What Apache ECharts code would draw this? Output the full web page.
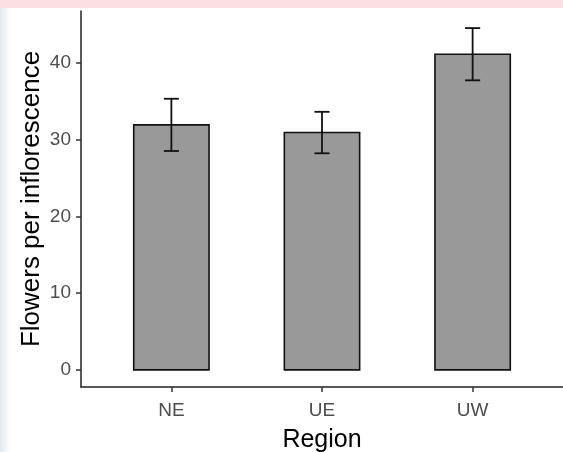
<!DOCTYPE html>
<html>
<head>
<meta charset="utf-8">
<script src="https://cdn.jsdelivr.net/npm/echarts@6/dist/echarts.min.js"></script>
<style>
  html, body { margin: 0; padding: 0; background: #fff; }
  #chart { width: 563px; height: 452px; }
</style>
</head>
<body>
<div id="chart"></div>
<script>
// Mean flowers per inflorescence by region, with error bars
const regions = ['NE', 'UE', 'UW'];
const means = [31.9, 30.9, 41.1];
const errors = [3.4, 2.7, 3.4];
const yTicks = [0, 10, 20, 30, 40];

const FONT = 'Liberation Sans, Arial, sans-serif';
const BAR_WIDTH = 0.5;   // in category units
const CAP_WIDTH = 0.1;

const data = regions.map((r, i) => [i + 1, means[i], errors[i]]);

// ggplot-style expansion of the y range
const yMaxData = Math.max(...means.map((m, i) => m + errors[i]));
const yPad = yMaxData * 0.05;

const chart = echarts.init(document.getElementById('chart'), null, { renderer: 'canvas' });

chart.setOption({
  backgroundColor: '#ffffff',
  animation: false,
  textStyle: { fontFamily: FONT },
  graphic: [
    { type: 'rect', left: 0, top: 0, shape: { width: 563, height: 8 }, style: { fill: '#f9dfe2' }, z: 100 },
    {
      type: 'rect', left: 0, top: 8, shape: { width: 10, height: 444 },
      style: {
        fill: new echarts.graphic.LinearGradient(0, 0, 1, 0, [
          { offset: 0, color: '#e4e8f2' }, { offset: 1, color: '#ffffff' }
        ])
      },
      z: -1
    }
  ],
  grid: { left: 81, right: 0, top: 11, bottom: 65, containLabel: false, outerBoundsMode: 'none' },
  xAxis: {
    type: 'value',
    min: 0.4,
    max: 3.6,
    splitLine: { show: false },
    axisLine: { show: true, onZero: false, lineStyle: { color: '#222', width: 1.5 } },
    axisTick: { show: true, length: 5, customValues: [1, 2, 3], lineStyle: { color: '#333', width: 1.5 } },
    axisLabel: {
      customValues: [1, 2, 3],
      formatter: v => regions[Math.round(v) - 1] || '',
      color: '#4d4d4d', fontSize: 19, fontFamily: FONT, margin: 14
    },
    name: 'Region',
    nameLocation: 'middle',
    nameGap: 41,
    nameMoveOverlap: false,
    nameTextStyle: { color: '#000', fontSize: 25, fontFamily: FONT }
  },
  yAxis: {
    type: 'value',
    min: -yPad,
    max: yMaxData + yPad,
    splitLine: { show: false },
    axisLine: { show: true, onZero: false, lineStyle: { color: '#222', width: 1.5 } },
    axisTick: { show: true, length: 5, customValues: yTicks, lineStyle: { color: '#333', width: 1.5 } },
    axisLabel: {
      customValues: yTicks,
      color: '#4d4d4d', fontSize: 19, fontFamily: FONT, margin: 10
    },
    name: 'Flowers per inflorescence',
    nameLocation: 'middle',
    nameGap: 36,
    nameMoveOverlap: false,
    nameTextStyle: { color: '#000', fontSize: 26, fontFamily: FONT }
  },
  series: [{
    type: 'custom',
    data: data,
    encode: { x: 0, y: 1 },
    renderItem: function (params, api) {
      const x = api.value(0);
      const m = api.value(1);
      const e = api.value(2);
      const base = api.coord([x, 0]);
      const top = api.coord([x, m]);
      const halfBar = api.size([BAR_WIDTH, 0])[0] / 2;
      const halfCap = api.size([CAP_WIDTH, 0])[0] / 2;
      const hi = api.coord([x, m + e]);
      const lo = api.coord([x, m - e]);
      const lineStyle = { stroke: '#111', lineWidth: 1.8, fill: null };
      return {
        type: 'group',
        children: [
          {
            type: 'rect',
            shape: { x: base[0] - halfBar, y: top[1], width: halfBar * 2, height: base[1] - top[1] },
            style: { fill: '#999999', stroke: '#111', lineWidth: 1.6 }
          },
          { type: 'line', shape: { x1: hi[0], y1: hi[1], x2: lo[0], y2: lo[1] }, style: lineStyle },
          { type: 'line', shape: { x1: hi[0] - halfCap, y1: hi[1], x2: hi[0] + halfCap, y2: hi[1] }, style: lineStyle },
          { type: 'line', shape: { x1: lo[0] - halfCap, y1: lo[1], x2: lo[0] + halfCap, y2: lo[1] }, style: lineStyle }
        ]
      };
    }
  }]
});
</script>
</body>
</html>
